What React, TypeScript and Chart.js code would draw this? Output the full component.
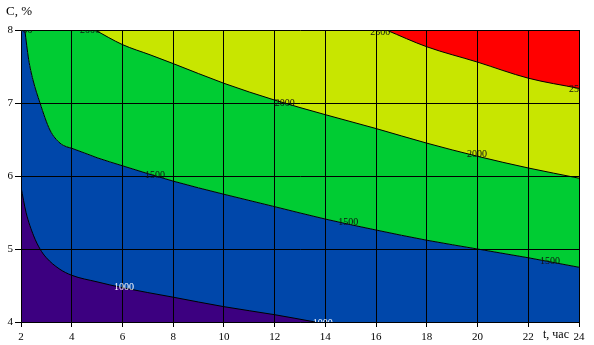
import React, { useEffect, useRef } from "react";
import { Chart, registerables } from "chart.js";

Chart.register(...registerables);

// axis ranges
const T_MIN = 2;
const T_MAX = 24;
const T_STEP = 2;
const C_MIN = 4;
const C_MAX = 8;
const C_STEP = 1;

// contour lines (t, hours ; C, %)
const c1000T = [2, 2.2, 2.5, 2.75, 3, 3.5, 4, 5, 6, 8, 10, 12, 13.6];
const c1000C = [5.85, 5.5, 5.18, 5.0, 4.88, 4.73, 4.64, 4.55, 4.47, 4.34, 4.21, 4.1, 4.0];

const c1500T = [2.15, 2.3, 2.47, 2.75, 3.14, 3.54, 3.8, 4, 5, 6, 8, 10, 12, 14, 16, 18, 20, 22, 24];
const c1500C = [8, 7.6, 7.32, 7.0, 6.63, 6.45, 6.4, 6.38, 6.25, 6.14, 5.93, 5.75, 5.58, 5.41, 5.26, 5.12, 5.0, 4.88, 4.75];

const c2000T = [4.92, 6, 7.09, 8, 10, 12, 14, 16, 18, 20, 22, 24];
const c2000C = [8, 7.8, 7.66, 7.54, 7.27, 7.04, 6.84, 6.65, 6.45, 6.27, 6.11, 5.97];

const c2500T = [16.4, 18, 20, 22, 24];
const c2500C = [8, 7.77, 7.56, 7.34, 7.2];

// contour labels
const labelText = ["1000", "1000", "1500", "1500", "1500", "1500", "2000", "2000", "2000", "2500", "2500"];
const labelT = [6.06, 13.9, 2.06, 7.28, 14.9, 22.86, 4.72, 12.4, 19.98, 16.16, 24.0];
const labelC = [4.48, 3.98, 7.99, 6.01, 5.36, 4.83, 7.99, 7.0, 6.29, 7.97, 7.19];
const labelColor = ["#ffffff", "#ffffff", "#111111", "#111111", "#111111", "#111111", "#111111", "#111111", "#111111", "#111111", "#111111"];

const COLORS = {
  purple: "#3c0080",
  blue: "#0047aa",
  green: "#00cc33",
  yellow: "#c8e600",
  red: "#ff0000",
};

const SERIF = "'Liberation Serif', 'Times New Roman', serif";

const zip = (t: number[], c: number[]) => t.map((x, i) => ({ x, y: c[i] }));

export default function App() {
  const ref = useRef<HTMLCanvasElement | null>(null);

  useEffect(() => {
    if (!ref.current) return;

    const labelsPlugin = {
      id: "contourLabels",
      afterDatasetsDraw(chart: any) {
        const { ctx, chartArea, scales } = chart;
        ctx.save();
        ctx.beginPath();
        ctx.rect(chartArea.left, chartArea.top, chartArea.right - chartArea.left, chartArea.bottom - chartArea.top);
        ctx.clip();
        ctx.font = `10px ${SERIF}`;
        ctx.textAlign = "center";
        ctx.textBaseline = "middle";
        labelText.forEach((txt, i) => {
          ctx.fillStyle = labelColor[i];
          ctx.fillText(txt, scales.x.getPixelForValue(labelT[i]), scales.y.getPixelForValue(labelC[i]));
        });
        ctx.restore();
      },
      afterDraw(chart: any) {
        const { ctx } = chart;
        ctx.save();
        ctx.fillStyle = "#000";
        ctx.font = `13px ${SERIF}`;
        ctx.textAlign = "left";
        ctx.textBaseline = "middle";
        ctx.fillText("C, %", 6, 12);
        ctx.font = `12px ${SERIF}`;
        ctx.textAlign = "center";
        ctx.fillText("t, час", 556, 335);
        ctx.restore();
      },
    };

    const lineBase = {
      showLine: true,
      pointRadius: 0,
      borderColor: "#000",
      borderWidth: 1,
      cubicInterpolationMode: "monotone" as const,
    };

    const chart = new Chart(ref.current, {
      type: "scatter",
      data: {
        datasets: [
          { ...lineBase, label: "2500", data: zip(c2500T, c2500C), fill: "end", backgroundColor: COLORS.red },
          { ...lineBase, label: "2000", data: zip(c2000T, c2000C), fill: "end", backgroundColor: COLORS.yellow },
          { ...lineBase, label: "1500", data: zip(c1500T, c1500C), fill: "end", backgroundColor: COLORS.green },
          { ...lineBase, label: "1000", data: zip(c1000T, c1000C), fill: "start", backgroundColor: COLORS.purple },
          {
            ...lineBase,
            label: "1500b",
            data: [{ x: T_MIN, y: C_MAX }, ...zip(c1500T, c1500C)],
            fill: "start",
            backgroundColor: COLORS.blue,
            borderWidth: 0,
            borderColor: "rgba(0,0,0,0)",
          },
        ],
      },
      options: {
        animation: false,
        responsive: false,
        maintainAspectRatio: false,
        layout: { padding: { top: 30, right: 15, left: 0, bottom: 0 } },
        plugins: {
          legend: { display: false },
          tooltip: { enabled: false },
          filler: { drawTime: "beforeDraw" } as any,
        },
        scales: {
          x: {
            type: "linear",
            min: T_MIN,
            max: T_MAX,
            afterFit: (s: any) => {
              s.height = 23;
            },
            ticks: {
              stepSize: T_STEP,
              color: "#000",
              font: { family: SERIF, size: 11 },
              padding: 4,
              maxRotation: 0,
            },
            grid: { color: "#000", lineWidth: 1, tickLength: 5 },
            border: { color: "#000", width: 1 },
          },
          y: {
            type: "linear",
            min: C_MIN,
            max: C_MAX,
            afterFit: (s: any) => {
              s.width = 21;
            },
            ticks: {
              stepSize: C_STEP,
              color: "#000",
              font: { family: SERIF, size: 11 },
              padding: 2,
            },
            grid: { color: "#000", lineWidth: 1, tickLength: 6 },
            border: { color: "#000", width: 1 },
          },
        },
      },
      plugins: [labelsPlugin],
    });

    return () => chart.destroy();
  }, []);

  return (
    <div style={{ position: "absolute", left: 0, top: 0, width: 594, height: 345, background: "#fff" }}>
      <canvas ref={ref} width={594} height={345} />
    </div>
  );
}
